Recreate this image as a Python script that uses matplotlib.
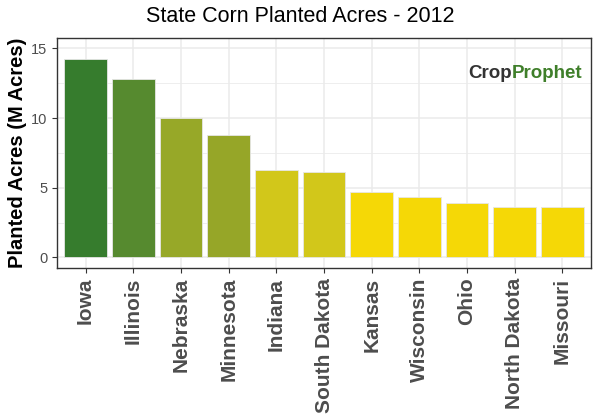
import matplotlib
matplotlib.use("Agg")
import matplotlib.pyplot as plt
from matplotlib.ticker import MultipleLocator

# ---------------------------------------------------------------------------
# Data (millions of acres planted, 2012)
# ---------------------------------------------------------------------------
states = ["Iowa", "Illinois", "Nebraska", "Minnesota", "Indiana",
          "South Dakota", "Kansas", "Wisconsin", "Ohio", "North Dakota",
          "Missouri"]
acres = [14.2, 12.8, 10.0, 8.8, 6.25, 6.15, 4.7, 4.35, 3.9, 3.65, 3.6]
bar_colors = ["#367C2D", "#568A2F", "#97A828", "#96A628", "#D2C71A",
              "#D2C71A", "#F5D806", "#F5D806", "#F5D806", "#F5D806",
              "#F5D806"]
y_ticks = [0, 5, 10, 15]

plt.rcParams["font.family"] = ["Liberation Sans", "DejaVu Sans"]

fig = plt.figure(figsize=(6, 4.2), dpi=100)
ax = fig.add_axes([0.095, 0.362, 0.89, 0.548])

x = range(len(states))
ax.bar(x, acres, width=0.9, color=bar_colors, edgecolor="#E6E6E6",
       linewidth=0.6, zorder=3)

ax.set_xlim(-0.6, len(states) - 0.4)
ax.set_ylim(-0.75, 15.75)
ax.set_xticks(list(x))
ax.set_xticklabels(states, rotation=90, fontsize=15, fontweight="bold",
                   color="#4D4D4D", ha="center", va="top")
ax.set_yticks(y_ticks)
ax.set_yticklabels([str(t) for t in y_ticks], fontsize=10.5, color="#4D4D4D")
ax.yaxis.set_minor_locator(MultipleLocator(2.5))

ax.grid(True, which="major", color="#EBEBEB", linewidth=1.1, zorder=0)
ax.grid(True, which="minor", axis="y", color="#EBEBEB", linewidth=0.6, zorder=0)
ax.tick_params(axis="both", which="major", length=3.5, color="#333333", width=0.8)
ax.tick_params(axis="y", which="minor", length=0)
for sp in ax.spines.values():
    sp.set_color("#333333")
    sp.set_linewidth(1.0)

ax.set_ylabel("Planted Acres (M Acres)", fontsize=14.5, fontweight="bold",
              color="black", labelpad=3)
fig.suptitle("State Corn Planted Acres - 2012", x=0.5, y=0.985,
             fontsize=15.5, va="top")

# logo text
ax.text(0.852, 0.845, "Crop", transform=ax.transAxes, fontsize=13.5,
        fontweight="bold", color="#333333", ha="right", va="center", zorder=5)
ax.text(0.852, 0.845, "Prophet", transform=ax.transAxes, fontsize=13.5,
        fontweight="bold", color="#3F7F2A", ha="left", va="center", zorder=5)

fig.savefig("out.png", dpi=100)
